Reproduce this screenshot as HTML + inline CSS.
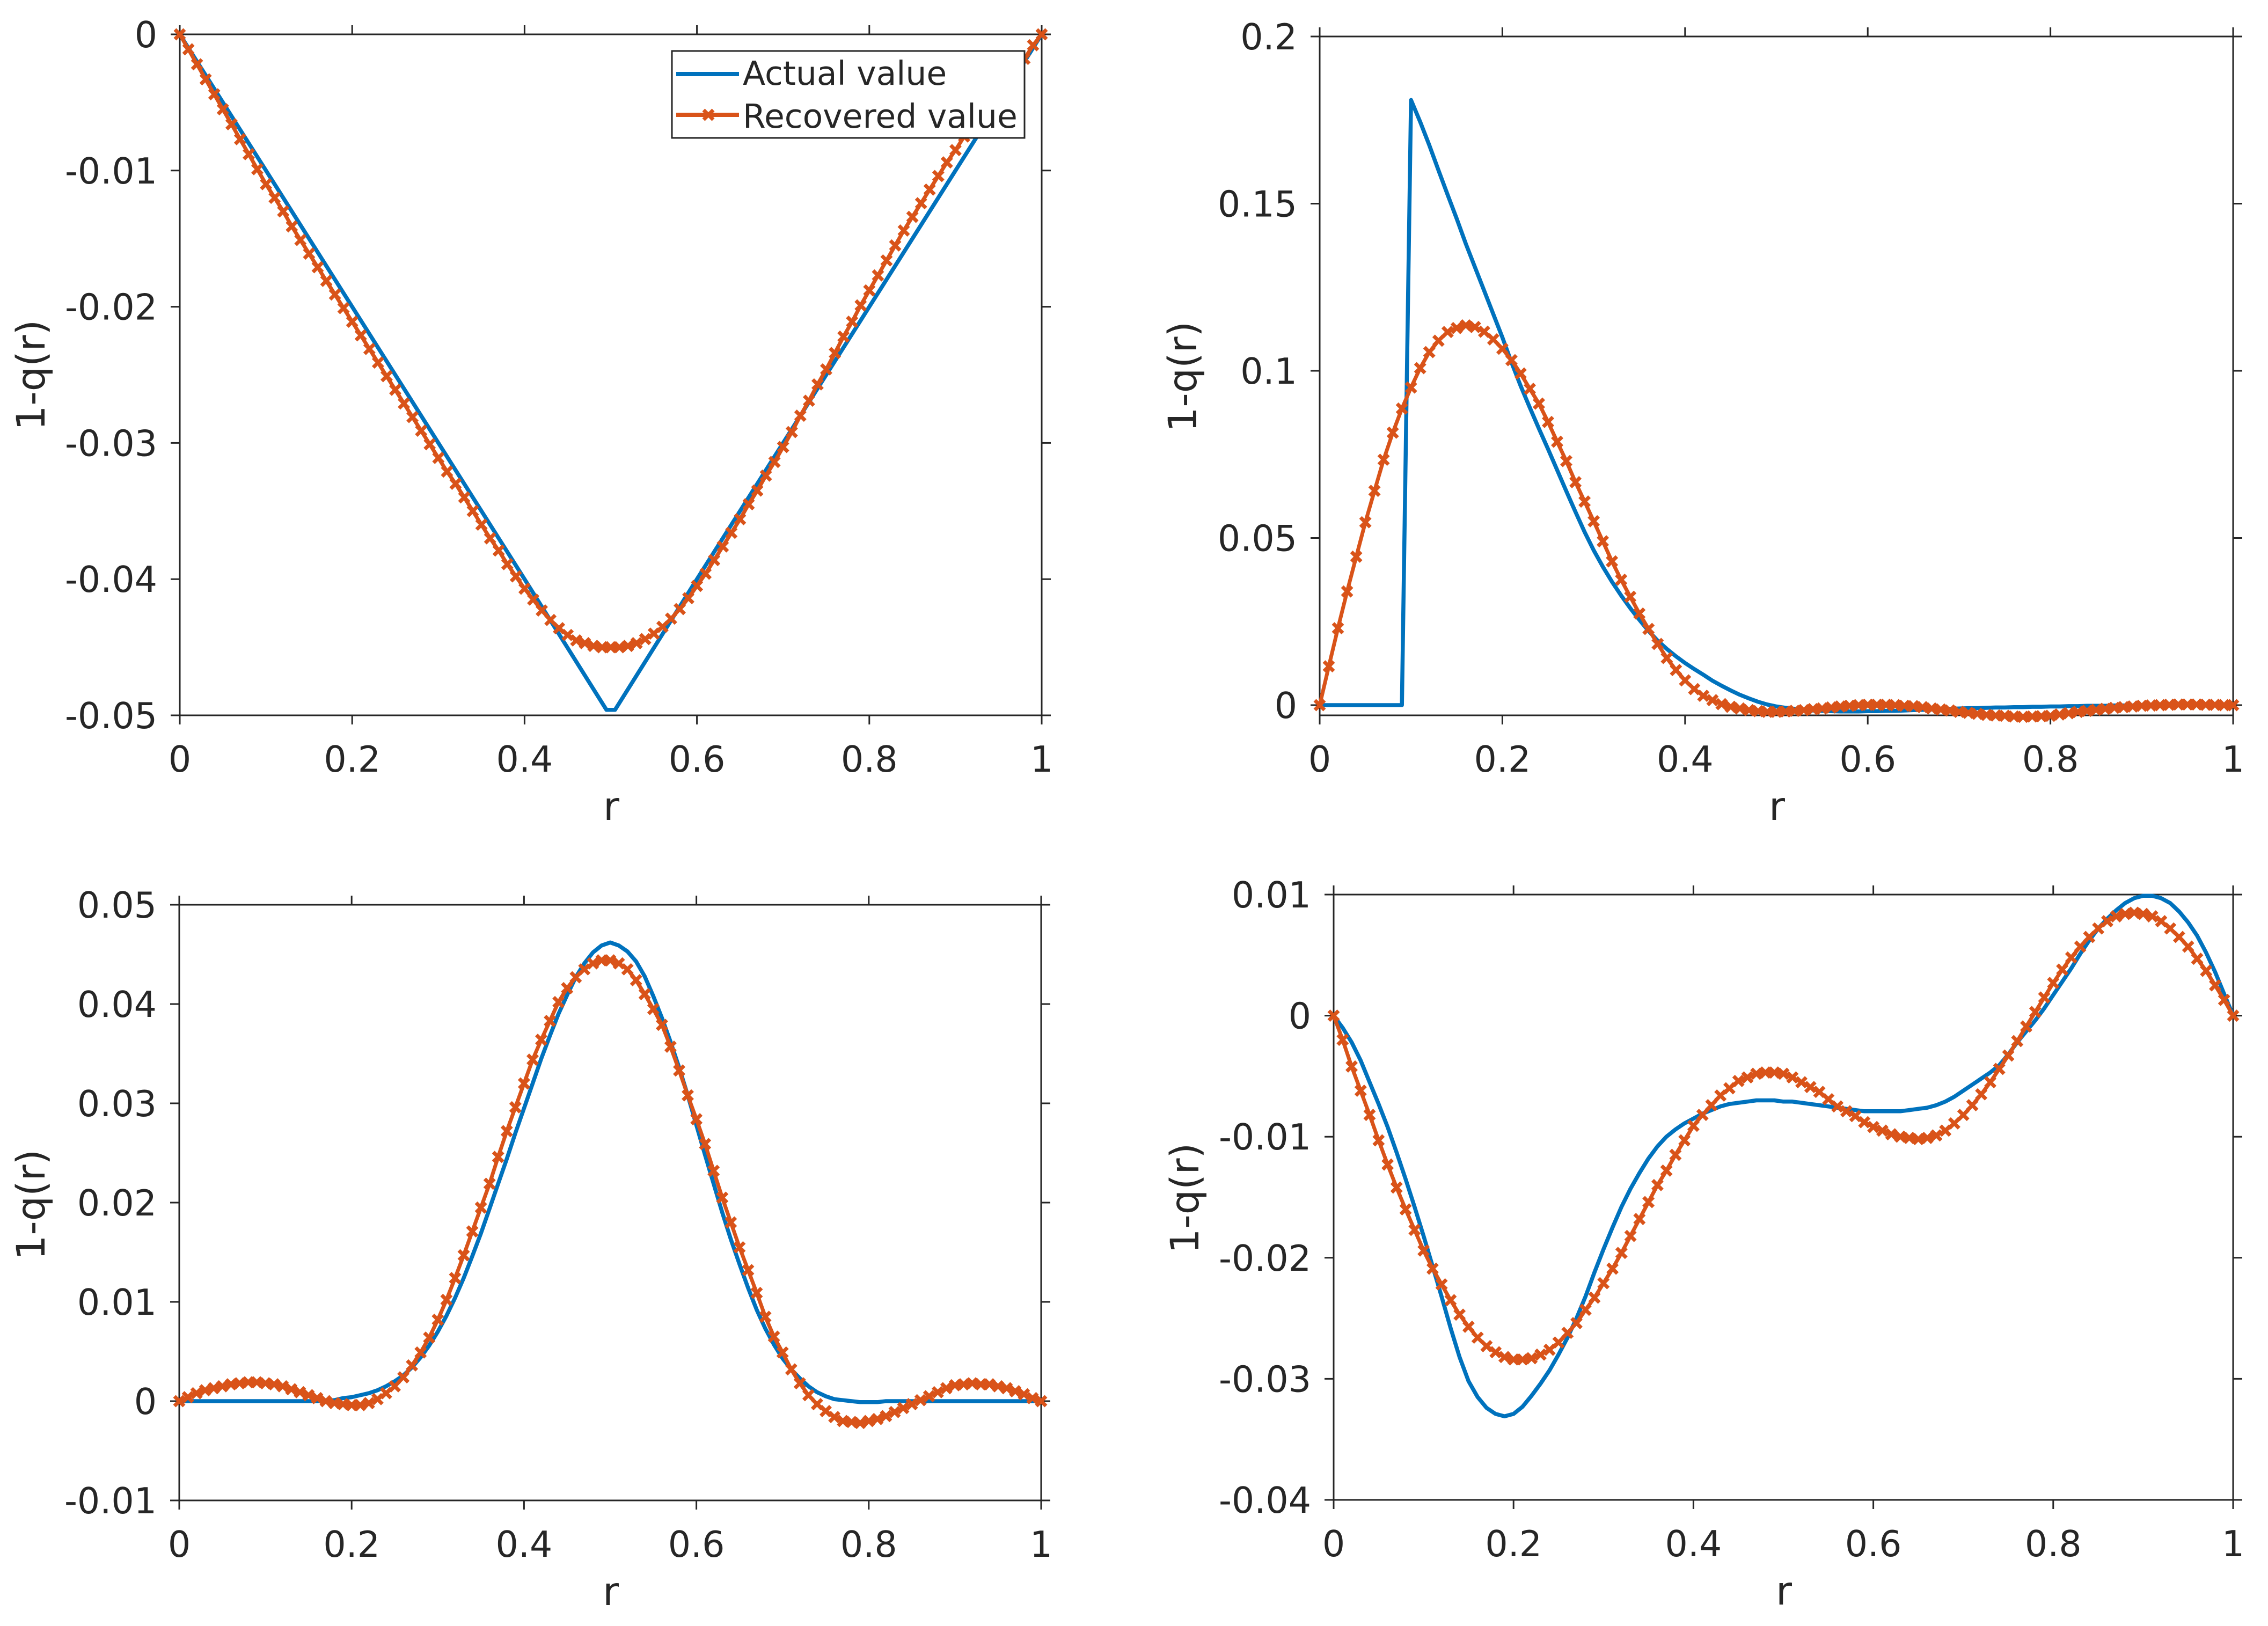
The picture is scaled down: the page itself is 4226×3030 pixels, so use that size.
<!DOCTYPE html>
<html lang="en">
<head>
<meta charset="utf-8">
<title>Actual and recovered 1-q(r)</title>
<style>
html,body{margin:0;padding:0;background:#fff;}
svg{display:block;}
text{font-family:"DejaVu Sans","Liberation Sans",sans-serif;fill:#262626;}
</style>
</head>
<body>
<svg id="figure" xmlns="http://www.w3.org/2000/svg" width="4226" height="3030" viewBox="0 0 4226 3030">
  <rect x="0" y="0" width="4226" height="3030" fill="#fff"/>
  <g id="panel-1"></g>
  <g id="panel-2"></g>
  <g id="panel-3"></g>
  <g id="panel-4"></g>
  <g id="legend">
    <rect x="1252" y="95" width="657" height="162" fill="#fff" stroke="#262626" stroke-width="3"/>
    <line x1="1260" y1="138" x2="1377" y2="138" stroke="#0072BD" stroke-width="8"/>
    <text x="1384" y="158" font-size="61.5">Actual value</text>
    <line x1="1260" y1="214" x2="1377" y2="214" stroke="#D95319" stroke-width="8"/>
    <path d="M1311 205L1329 223M1311 223L1329 205" stroke="#D95319" stroke-width="7" fill="none"/>
    <text x="1384" y="238" font-size="61.5">Recovered value</text>
  </g>
</svg>
<script>
const rGrid = [0,0.01,0.02,0.03,0.04,0.05,0.06,0.07,0.08,0.09,0.1,0.11,0.12,0.13,0.14,0.15,0.16,0.17,0.18,0.19,0.2,0.21,0.22,0.23,0.24,0.25,0.26,0.27,0.28,0.29,0.3,0.31,0.32,0.33,0.34,0.35,0.36,0.37,0.38,0.39,0.4,0.41,0.42,0.43,0.44,0.45,0.46,0.47,0.48,0.49,0.5,0.51,0.52,0.53,0.54,0.55,0.56,0.57,0.58,0.59,0.6,0.61,0.62,0.63,0.64,0.65,0.66,0.67,0.68,0.69,0.7,0.71,0.72,0.73,0.74,0.75,0.76,0.77,0.78,0.79,0.8,0.81,0.82,0.83,0.84,0.85,0.86,0.87,0.88,0.89,0.9,0.91,0.92,0.93,0.94,0.95,0.96,0.97,0.98,0.99,1];
const xTickValues = [0,0.2,0.4,0.6,0.8,1];
const xTickLabels = ['0','0.2','0.4','0.6','0.8','1'];

const actualR1 = [0,0.1,0.2,0.3,0.4,0.495,0.505,0.6,0.7,0.8,0.9,1];
const actual1 = [0,-0.01,-0.02,-0.03,-0.04,-0.0496,-0.0496,-0.04,-0.03,-0.02,-0.01,0];
const recovered1 = [0,-0.0011,-0.0022,-0.0033,-0.0044,-0.0055,-0.0066,-0.0077,-0.0088,-0.0099,-0.011,-0.012,-0.013,-0.0141,-0.0151,-0.0161,-0.0171,-0.0181,-0.0191,-0.0201,-0.0211,-0.0221,-0.0231,-0.0241,-0.0251,-0.0261,-0.0271,-0.0281,-0.0291,-0.0301,-0.0311,-0.0321,-0.033,-0.034,-0.035,-0.036,-0.037,-0.0379,-0.0389,-0.0398,-0.0407,-0.0415,-0.0423,-0.043,-0.0436,-0.0441,-0.0445,-0.0447,-0.0449,-0.045,-0.045,-0.045,-0.0449,-0.0447,-0.0444,-0.044,-0.0435,-0.0429,-0.0422,-0.0414,-0.0405,-0.0396,-0.0386,-0.0376,-0.0366,-0.0356,-0.0345,-0.0335,-0.0324,-0.0314,-0.0303,-0.0292,-0.028,-0.0269,-0.0257,-0.0246,-0.0234,-0.0222,-0.0211,-0.0199,-0.0188,-0.0177,-0.0166,-0.0155,-0.0144,-0.0134,-0.0124,-0.0114,-0.0104,-0.0094,-0.0085,-0.0075,-0.0066,-0.0057,-0.0048,-0.004,-0.0032,-0.0024,-0.0018,-0.0008,0];
const yTicks1 = [0,-0.01,-0.02,-0.03,-0.04,-0.05];
const yLabels1 = ['0','-0.01','-0.02','-0.03','-0.04','-0.05'];

const actual2 = [0,0,0,0,0,0,0,0,0,0,0.181,0.1745,0.1675,0.16,0.1527,0.1455,0.138,0.131,0.124,0.117,0.11,0.1025,0.0955,0.089,0.0827,0.0766,0.0703,0.064,0.0578,0.0518,0.0463,0.0414,0.0369,0.0328,0.029,0.0255,0.0222,0.0193,0.0168,0.0146,0.0126,0.0108,0.0091,0.0073,0.0058,0.0044,0.0031,0.002,0.001,0.0002,-0.0004,-0.0008,-0.0011,-0.0014,-0.0016,-0.0017,-0.0018,-0.0019,-0.0019,-0.0019,-0.0018,-0.0018,-0.0017,-0.0017,-0.0016,-0.0015,-0.0014,-0.0013,-0.0012,-0.0011,-0.001,-0.0009,-0.0009,-0.0008,-0.0007,-0.0007,-0.0006,-0.0006,-0.0005,-0.0005,-0.0004,-0.0004,-0.0003,-0.0003,-0.0002,-0.0002,-0.0002,-0.0001,-0.0001,-0.0001,0,0,0,0,0,0,0,0,0,0,0];
const recovered2 = [0,0.0116,0.023,0.034,0.0444,0.0547,0.0641,0.0734,0.0815,0.0887,0.095,0.1008,0.1056,0.109,0.1116,0.1128,0.1136,0.1131,0.1117,0.1094,0.1066,0.1032,0.0992,0.0946,0.0902,0.0847,0.0788,0.073,0.0667,0.0609,0.055,0.049,0.043,0.0375,0.0324,0.0274,0.0228,0.0183,0.0141,0.0105,0.0074,0.0048,0.0028,0.0015,0.0003,-0.0005,-0.001,-0.0015,-0.0018,-0.002,-0.002,-0.0019,-0.0017,-0.0015,-0.0012,-0.001,-0.0007,-0.0004,-0.0002,0,0.0001,0.0001,0.0001,0,-0.0002,-0.0003,-0.0006,-0.001,-0.0013,-0.0016,-0.002,-0.0023,-0.0026,-0.0029,-0.0031,-0.0032,-0.0034,-0.0035,-0.0034,-0.0033,-0.0032,-0.0028,-0.0024,-0.002,-0.0017,-0.0014,-0.0011,-0.0008,-0.0006,-0.0004,-0.0002,-0.0001,0,0.0001,0.0002,0.0002,0.0002,0.0001,0.0001,0,0];
const yTicks2 = [0,0.05,0.1,0.15,0.2];
const yLabels2 = ['0','0.05','0.1','0.15','0.2'];

const actual3 = [0,0,0,0,0,0,0,0,0,0,0,0,0,0,0,0,0,0.0001,0.0001,0.0003,0.0004,0.0006,0.0008,0.0011,0.0015,0.002,0.0026,0.0034,0.0044,0.0056,0.007,0.0086,0.0104,0.0124,0.0146,0.0169,0.0194,0.0219,0.0244,0.027,0.0295,0.032,0.0345,0.0368,0.039,0.0409,0.0427,0.0441,0.0452,0.0459,0.0462,0.0459,0.0453,0.0443,0.0428,0.0408,0.0386,0.0362,0.0336,0.0308,0.0278,0.0248,0.0219,0.019,0.0163,0.0138,0.0114,0.0092,0.0073,0.0057,0.0043,0.0032,0.0023,0.0015,0.0009,0.0005,0.0002,0.0001,0,-0.0001,-0.0001,-0.0001,0,0,0,0,0,0,0,0,0,0,0,0,0,0,0,0,0,0,0];
const recovered3 = [0,0.0004,0.0008,0.0011,0.0013,0.0015,0.0017,0.0018,0.0019,0.0019,0.0018,0.0017,0.0015,0.0012,0.0009,0.0006,0.0003,0,-0.0002,-0.0003,-0.0004,-0.0004,-0.0002,0.0002,0.0008,0.0015,0.0024,0.0036,0.0049,0.0064,0.0082,0.0102,0.0124,0.0147,0.0171,0.0195,0.0219,0.0246,0.0272,0.0296,0.032,0.0344,0.0364,0.0383,0.0402,0.0416,0.0427,0.0435,0.0441,0.0444,0.0444,0.0441,0.0435,0.0424,0.041,0.0395,0.0379,0.0357,0.0333,0.0308,0.0284,0.0259,0.0232,0.0205,0.018,0.0155,0.0132,0.0109,0.0085,0.0065,0.0049,0.0032,0.0018,0.0006,-0.0003,-0.001,-0.0016,-0.002,-0.0021,-0.0022,-0.002,-0.0018,-0.0015,-0.0011,-0.0007,-0.0003,0.0001,0.0005,0.0009,0.0013,0.0016,0.0017,0.0018,0.0017,0.0017,0.0015,0.0013,0.001,0.0007,0.0003,0];
const yTicks3 = [-0.01,0,0.01,0.02,0.03,0.04,0.05];
const yLabels3 = ['-0.01','0','0.01','0.02','0.03','0.04','0.05'];

const actual4 = [0,-0.001,-0.0022,-0.0037,-0.0055,-0.0073,-0.0092,-0.0113,-0.0135,-0.0158,-0.0182,-0.0207,-0.0232,-0.0258,-0.0282,-0.0302,-0.0315,-0.0324,-0.0329,-0.0331,-0.0329,-0.0323,-0.0314,-0.0304,-0.0293,-0.028,-0.0266,-0.025,-0.0232,-0.0212,-0.0193,-0.0175,-0.0158,-0.0143,-0.013,-0.0118,-0.0108,-0.01,-0.0094,-0.0089,-0.0085,-0.0081,-0.0078,-0.0075,-0.0073,-0.0072,-0.0071,-0.007,-0.007,-0.007,-0.0071,-0.0071,-0.0072,-0.0073,-0.0074,-0.0075,-0.0076,-0.0077,-0.0078,-0.0079,-0.0079,-0.0079,-0.0079,-0.0079,-0.0078,-0.0077,-0.0076,-0.0074,-0.0071,-0.0067,-0.0062,-0.0057,-0.0052,-0.0047,-0.0041,-0.0032,-0.0022,-0.0013,-0.0004,0.0006,0.0017,0.0028,0.0039,0.0051,0.0062,0.0072,0.008,0.0087,0.0093,0.0097,0.0099,0.0099,0.0097,0.0093,0.0086,0.0077,0.0066,0.0052,0.0036,0.0018,0];
const recovered4 = [0,-0.002,-0.0042,-0.0062,-0.0082,-0.0103,-0.0123,-0.0142,-0.016,-0.0177,-0.0194,-0.0209,-0.0222,-0.0235,-0.0247,-0.0257,-0.0266,-0.0273,-0.0278,-0.0282,-0.0284,-0.0284,-0.0283,-0.028,-0.0276,-0.027,-0.0262,-0.0254,-0.0243,-0.0233,-0.0221,-0.0209,-0.0196,-0.0182,-0.0168,-0.0154,-0.014,-0.0128,-0.0115,-0.0103,-0.0091,-0.0082,-0.0074,-0.0066,-0.006,-0.0054,-0.0051,-0.0048,-0.0047,-0.0047,-0.0048,-0.0051,-0.0055,-0.0059,-0.0063,-0.0069,-0.0075,-0.0079,-0.0083,-0.0088,-0.0092,-0.0095,-0.0098,-0.01,-0.0101,-0.0102,-0.0101,-0.0099,-0.0095,-0.0089,-0.0082,-0.0074,-0.0065,-0.0055,-0.0044,-0.0033,-0.0021,-0.0009,0.0003,0.0015,0.0027,0.0038,0.0048,0.0057,0.0065,0.0072,0.0078,0.0082,0.0084,0.0085,0.0084,0.0082,0.0078,0.0072,0.0065,0.0057,0.0047,0.0037,0.0025,0.0013,0];
const yTicks4 = [-0.04,-0.03,-0.02,-0.01,0,0.01];
const yLabels4 = ['-0.04','-0.03','-0.02','-0.01','0','0.01'];

const SVG_NS = 'http://www.w3.org/2000/svg';
const INK = '#262626';
const BLUE = '#0072BD';
const RED = '#D95319';

function make(parent, tag, attrs, text) {
  const el = document.createElementNS(SVG_NS, tag);
  for (const key in attrs) el.setAttribute(key, attrs[key]);
  if (text !== undefined) el.textContent = text;
  parent.appendChild(el);
  return el;
}

function linePath(rs, vs, sx, sy) {
  return rs.map((r, i) => (i ? 'L' : 'M') + sx(r).toFixed(1) + ' ' + sy(vs[i]).toFixed(1)).join('');
}

function drawPanel(cfg) {
  const g = document.getElementById(cfg.id);
  const sx = r => cfg.left + (r - 0) / (1 - 0) * (cfg.right - cfg.left);
  const sy = v => cfg.bottom - (v - cfg.yMin) / (cfg.yMax - cfg.yMin) * (cfg.bottom - cfg.top);
  const tick = 17;

  const frame = make(g, 'rect', {x: cfg.left, y: cfg.top, width: cfg.right - cfg.left, height: cfg.bottom - cfg.top, fill: 'none', stroke: INK, 'stroke-width': 3});
  
  

  xTickValues.forEach((v, i) => {
    const x = sx(v);
    const bottomTick = make(g, 'line', {x1: x, y1: cfg.bottom, x2: x, y2: cfg.bottom + tick, stroke: INK, 'stroke-width': 3});
    
    
    const topTick = make(g, 'line', {x1: x, y1: cfg.top, x2: x, y2: cfg.top - tick, stroke: INK, 'stroke-width': 3});
    
    
    const label = make(g, 'text', {x: x, y: cfg.bottom + 105, 'font-size': 66.5, 'text-anchor': 'middle'}, xTickLabels[i]);
    
    
  });

  cfg.yTicks.forEach((v, i) => {
    const y = sy(v);
    const leftTick = make(g, 'line', {x1: cfg.left, y1: y, x2: cfg.left - tick, y2: y, stroke: INK, 'stroke-width': 3});
    
    
    const rightTick = make(g, 'line', {x1: cfg.right, y1: y, x2: cfg.right + tick, y2: y, stroke: INK, 'stroke-width': 3});
    
    
    const label = make(g, 'text', {x: cfg.left - 42, y: y + 24, 'font-size': 66.5, 'text-anchor': 'end'}, cfg.yLabels[i]);
    
    
  });

  const xTitle = make(g, 'text', {x: (cfg.left + cfg.right) / 2 + 1, y: cfg.bottom + 195, 'font-size': 73, 'text-anchor': 'middle'}, 'r');
  
  

  const yTitle = make(g, 'text', {transform: 'translate(' + cfg.yTitleX + ' ' + cfg.yTitleY + ') rotate(-90)', 'font-size': 73, 'text-anchor': 'middle'}, '1-q(r)');
  
  

  const actualLine = make(g, 'path', {d: linePath(cfg.actualR, cfg.actual, sx, sy), fill: 'none', stroke: BLUE, 'stroke-width': 7.5, 'stroke-linejoin': 'round'});
  
  

  const recoveredLine = make(g, 'path', {d: linePath(rGrid, cfg.recovered, sx, sy), fill: 'none', stroke: RED, 'stroke-width': 7, 'stroke-linejoin': 'round'});
  
  

  rGrid.forEach((r, i) => {
    const x = sx(r);
    const y = sy(cfg.recovered[i]);
    const m = 9;
    const marker = make(g, 'path', {d: 'M' + (x - m).toFixed(1) + ' ' + (y - m).toFixed(1) + 'L' + (x + m).toFixed(1) + ' ' + (y + m).toFixed(1) + 'M' + (x - m).toFixed(1) + ' ' + (y + m).toFixed(1) + 'L' + (x + m).toFixed(1) + ' ' + (y - m).toFixed(1), fill: 'none', stroke: RED, 'stroke-width': 7});
    
    
  });
}

drawPanel({id: 'panel-1', left: 335, right: 1941, top: 64, bottom: 1333, yMin: -0.05, yMax: 0, yTicks: yTicks1, yLabels: yLabels1, actualR: actualR1, actual: actual1, recovered: recovered1, yTitleX: 83, yTitleY: 699});
drawPanel({id: 'panel-2', left: 2459, right: 4161, top: 68, bottom: 1333, yMin: -0.00305, yMax: 0.2, yTicks: yTicks2, yLabels: yLabels2, actualR: rGrid, actual: actual2, recovered: recovered2, yTitleX: 2229, yTitleY: 702});
drawPanel({id: 'panel-3', left: 334, right: 1940, top: 1686, bottom: 2796, yMin: -0.01, yMax: 0.05, yTicks: yTicks3, yLabels: yLabels3, actualR: rGrid, actual: actual3, recovered: recovered3, yTitleX: 83, yTitleY: 2245});
drawPanel({id: 'panel-4', left: 2485, right: 4161, top: 1667, bottom: 2795, yMin: -0.04, yMax: 0.01, yTicks: yTicks4, yLabels: yLabels4, actualR: rGrid, actual: actual4, recovered: recovered4, yTitleX: 2233, yTitleY: 2233});

const figure = document.getElementById('figure');
figure.appendChild(document.getElementById('legend'));
</script>
</body>
</html>
